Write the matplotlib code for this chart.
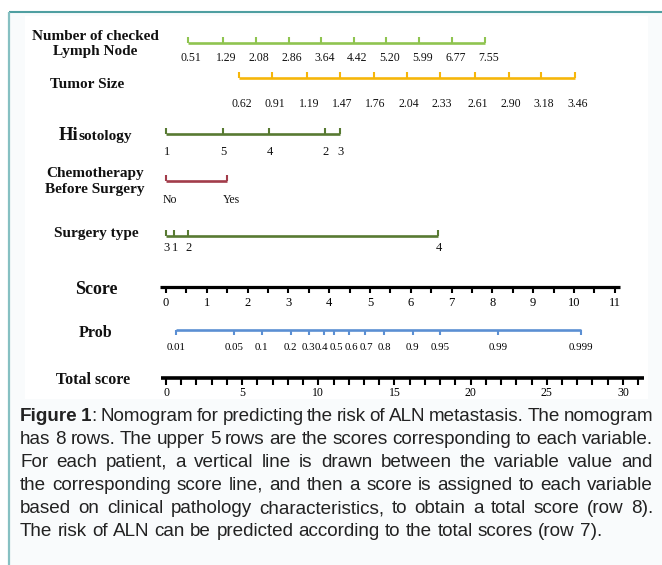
import matplotlib
matplotlib.use("Agg")
import matplotlib.pyplot as plt
import matplotlib.transforms as mtransforms
from matplotlib.patches import Rectangle

# ---- data (positions in "Score" points) ----
lymph_labels = ["0.51", "1.29", "2.08", "2.86", "3.64", "4.42", "5.20", "5.99", "6.77", "7.55"]
lymph_points = [0.53, 1.40, 2.21, 3.02, 3.81, 4.62, 5.40, 6.21, 7.02, 7.83]

tumor_labels = ["0.62", "0.91", "1.19", "1.47", "1.76", "2.04", "2.33", "2.61", "2.90", "3.18", "3.46"]
tumor_points = [1.80, 2.61, 3.45, 4.27, 5.09, 5.91, 6.72, 7.58, 8.40, 9.20, 10.03]

histo_labels = ["1", "5", "4", "2", "3"]
histo_points = [0.0, 1.39, 2.52, 3.89, 4.26]

chemo_labels = ["No", "Yes"]
chemo_points = [0.0, 1.50]

surgery_labels = ["3", "1", "2", "4"]
surgery_points = [0.0, 0.20, 0.53, 6.66]

score_labels = [str(i) for i in range(12)]
score_values = list(range(12))

# probability ticks, positions in "Total score" units
prob_labels = ["0.01", "0.05", "0.1", "0.2", "0.3", "0.4", "0.5", "0.6", "0.7", "0.8",
               "0.9", "0.95", "0.99", "0.999"]
prob_total = [0.64, 4.47, 6.29, 8.19, 9.41, 10.37, 11.05, 12.04, 13.07, 14.33,
              16.20, 18.00, 21.80, 27.25]

total_labels = ["0", "5", "10", "15", "20", "25", "30"]
total_values = [0, 5, 10, 15, 20, 25, 30]

caption_lines = [
    [[("Figure", "bold")], [("1", "bold"), (":", "normal")], "Nomogram", "for", "predicting",
     "the", "risk", "of", "ALN", "metastasis.", "The", "nomogram"],
    "has 8 rows. The upper 5 rows are the scores corresponding to each variable.",
    "For each patient, a vertical line is drawn between the variable value and",
    "the corresponding score line, and then a score is assigned to each variable",
    "based on clinical pathology characteristics, to obtain a total score (row 8).",
    "The risk of ALN can be predicted according to the total scores (row 7).",
]

W, H = 662, 565
X0 = 166          # pixel of score 0
PX_PT = 40.8      # pixels per score point
PX_TOT = 15.23    # pixels per total-score point

fig = plt.figure(figsize=(W / 100, H / 100), dpi=100)
fig.patch.set_facecolor("white")

bg = fig.add_axes([0, 0, 1, 1], label="bg")
bg.set_xlim(0, W)
bg.set_ylim(H, 0)
bg.axis("off")

ax = fig.add_axes([0, 0, 1, 1], label="points")
ax.set_xlim(-X0 / PX_PT, (W - X0) / PX_PT)
ax.set_ylim(H, 0)
ax.axis("off")
ax.patch.set_alpha(0)

axt = fig.add_axes([0, 0, 1, 1], label="total")
axt.set_xlim(-X0 / PX_TOT, (W - X0) / PX_TOT)
axt.set_ylim(H, 0)
axt.axis("off")
axt.patch.set_alpha(0)

# frame of the figure box
bg.add_patch(Rectangle((8.5, 11.5), W, H, facecolor="#f9fbfc", edgecolor="none"))
bg.plot([8.5, W], [11.5, 11.5], color="#4f9fa1", lw=1.5, solid_capstyle="butt")
bg.plot([8.5, 8.5], [11.5, H], color="#86c0c2", lw=1.6, solid_capstyle="butt")
bg.add_patch(Rectangle((25, 16), 623, 383, facecolor="white", edgecolor="none"))

serif = "Liberation Serif"


def lab_off(a, dx):
    return mtransforms.offset_copy(a.transData, fig=fig, x=dx, y=0, units="dots")


def var_row(a, pts, labels, y, ly, color, dx=2, tick=6, size=8.5):
    a.plot([min(pts), max(pts)], [y, y], color=color, lw=1.9, solid_capstyle="butt")
    for p in pts:
        a.plot([p, p], [y, y - tick], color=color, lw=1.5, solid_capstyle="butt")
    tr = lab_off(a, dx)
    for p, s in zip(pts, labels):
        a.text(p, ly, s, transform=tr, ha="center", va="center", family=serif,
               fontsize=size, color="#111111")


var_row(ax, lymph_points, lymph_labels, 43, 58, "#8fc450", dx=3)
var_row(ax, tumor_points, tumor_labels, 78, 104, "#f6b60a", dx=2)
var_row(ax, histo_points, histo_labels, 134, 152, "#587a32", dx=1, size=9)
var_row(ax, chemo_points, chemo_labels, 181, 200, "#a23c4a", dx=4)
var_row(ax, surgery_points, surgery_labels, 236, 248, "#587a32", dx=1, size=9)

# Score axis
ax.plot([-0.15, 11.12], [287, 287], color="black", lw=2.3, solid_capstyle="butt")
for i in range(23):
    v = i * 0.5
    ax.plot([v, v], [287, 293], color="black", lw=1.5, solid_capstyle="butt")
for v, s in zip(score_values, score_labels):
    ax.text(v, 303, s, ha="center", va="center", family=serif, fontsize=9)

# Prob axis
axt.plot([min(prob_total), max(prob_total)], [330, 330], color="#5b8fd3", lw=1.9,
         solid_capstyle="butt")
for v in prob_total:
    axt.plot([v, v], [330, 335], color="#5b8fd3", lw=1.5, solid_capstyle="butt")
# crowded labels in the middle are nudged apart a little (pixels)
prob_nudge = {"0.3": -1, "0.4": -2, "0.5": 2, "0.6": 2, "0.7": 1}
for v, s in zip(prob_total, prob_labels):
    axt.text(v, 348, s, transform=lab_off(axt, prob_nudge.get(s, 0)), ha="center",
             va="center", family=serif, fontsize=7.8)

# Total score axis
axt.plot([-0.35, 31.4], [378, 378], color="black", lw=2.6, solid_capstyle="butt")
for v in range(32):
    axt.plot([v, v], [378, 385], color="black", lw=1.5, solid_capstyle="butt")
for v, s in zip(total_values, total_labels):
    axt.text(v, 393, s, ha="center", va="center", family=serif, fontsize=8.5)

# row titles
tkw = dict(family=serif, weight="bold", ha="center", va="center", color="#111111")
bg.text(95, 44, "Number of checked\nLymph Node", fontsize=11, linespacing=1.25, **tkw)
bg.text(87, 85, "Tumor Size", fontsize=11, **tkw)
bg.text(95, 182, "Chemotherapy\nBefore Surgery", fontsize=11, linespacing=1.3, **tkw)
bg.text(96, 234, "Surgery type", fontsize=11, **tkw)
bg.text(96, 290, "Score", fontsize=13, **tkw)
bg.text(96, 333, "Prob", fontsize=11.5, **tkw)
bg.text(93, 380, "Total score", fontsize=11.5, **tkw)

renderer = fig.canvas.get_renderer()
hi = bg.text(59, 140, "Hi", family=serif, weight="bold", fontsize=13.5, ha="left",
             va="baseline", color="#111111")
hw = hi.get_window_extent(renderer).width
bg.text(59 + hw, 140, "sotology", family=serif, weight="bold", fontsize=11, ha="left",
        va="baseline", color="#111111")

# caption, justified
left, right = 20, 653
y0, dy = 421, 23


def run_width(s, weight, size):
    t = bg.text(0, 0, s, family="Liberation Sans", fontsize=size, weight=weight)
    w = t.get_window_extent(renderer).width
    t.remove()
    return w


# pick the size so that the last (unjustified) line ends where it does in the figure
cap_size = 10 * 586 / run_width(caption_lines[-1], "normal", 10)

for k, line in enumerate(caption_lines):
    words = line.split() if isinstance(line, str) else line
    words = [[(w, "normal")] if isinstance(w, str) else w for w in words]
    widths = [sum(run_width(s, wt, cap_size) for s, wt in w) for w in words]
    last = k == len(caption_lines) - 1
    if last:
        gap = run_width("a b", "normal", cap_size) - run_width("ab", "normal", cap_size)
    else:
        gap = (right - left - sum(widths)) / (len(words) - 1)
    x = left
    y = y0 + k * dy
    for w, wd in zip(words, widths):
        xx = x
        for s, wt in w:
            bg.text(xx, y, s, family="Liberation Sans", fontsize=cap_size, weight=wt,
                    ha="left", va="baseline", color="#222222")
            xx += run_width(s, wt, cap_size)
        x += wd + gap

fig.savefig("out.png", dpi=100)
